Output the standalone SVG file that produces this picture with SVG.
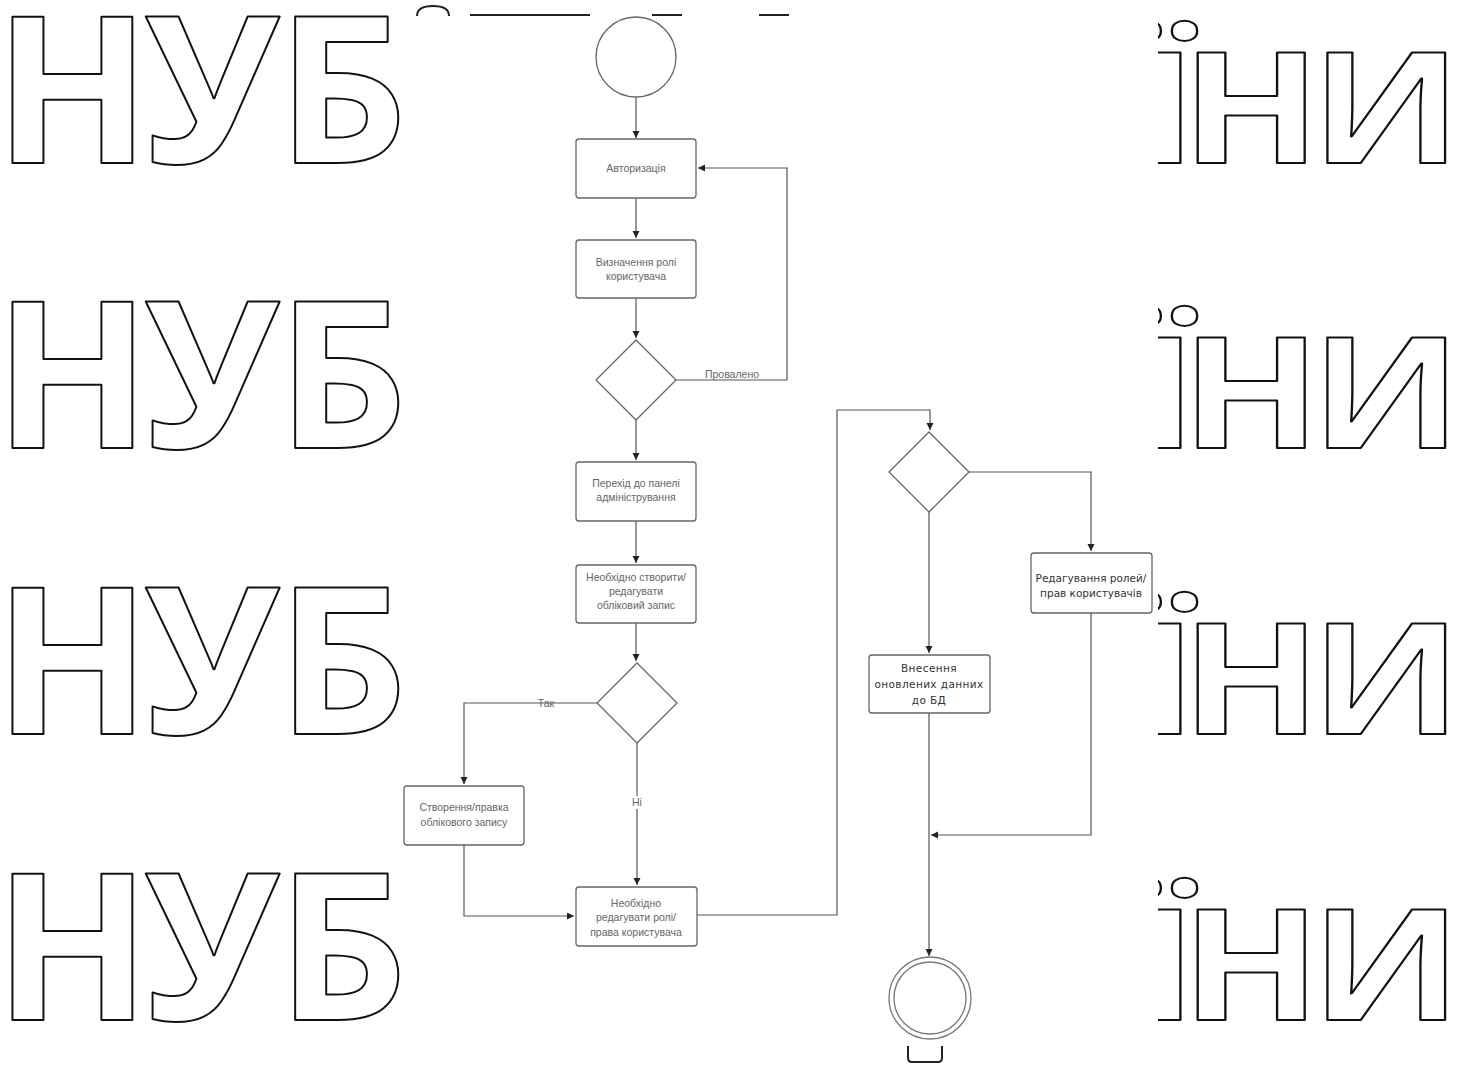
<svg xmlns="http://www.w3.org/2000/svg" width="1461" height="1066" viewBox="0 0 1461 1066">
<style>
.wm{font-family:"Open Sans","DejaVu Sans",sans-serif;font-weight:700;fill:#fff;stroke:#111;stroke-width:2;stroke-linejoin:round}
.frag{fill:none;stroke:#222;stroke-width:2}
.box{fill:#fff;stroke:#666;stroke-width:1.3}
.ln{fill:none;stroke:#555;stroke-width:1.2}
.t{font-family:"Liberation Sans",Arial,sans-serif;font-size:10.5px;fill:#666;text-anchor:middle}
.t2{font-family:"DejaVu Sans",sans-serif;font-size:10.5px;fill:#333;text-anchor:middle}
</style>
<defs>
<marker id="ar" markerUnits="userSpaceOnUse" markerWidth="8" markerHeight="8" refX="7" refY="3.5" orient="auto"><path d="M0,0 L7,3.5 L0,7 z" fill="#222"/></marker>
<g id="wmrow">
<text class="wm" font-size="205" y="163"><tspan x="-6">Н</tspan><tspan dx="-7">У</tspan><tspan dx="-3">Б</tspan></text>
<text class="wm" font-size="155" y="163" transform="scale(1.18,1)"><tspan x="963">Ї</tspan><tspan x="1001">Н</tspan><tspan x="1111">И</tspan></text>
</g>
</defs>
<rect width="1461" height="1066" fill="#fff"/>
<g id="watermark">
<use href="#wmrow"/>
<use href="#wmrow" y="285"/>
<use href="#wmrow" y="571"/>
<use href="#wmrow" y="857"/>
<path class="frag" d="M417,16 Q417,6 433,6 Q449,6 449,16"/>
<path class="frag" d="M470,15 H590 M652,15 H682 M759,15 H789"/>
<path class="frag" d="M908,1046 V1058 Q908,1062 912,1062 H938 Q942,1062 942,1058 V1046"/>
</g>
<rect x="402" y="17" width="756" height="1028" fill="#fff"/>
<g id="connectors">
<path class="ln" d="M636,97 V138" marker-end="url(#ar)"/>
<path class="ln" d="M636,198 V238" marker-end="url(#ar)"/>
<path class="ln" d="M636,298 V338" marker-end="url(#ar)"/>
<path class="ln" d="M676,380 H787 V168 H698" marker-end="url(#ar)"/>
<path class="ln" d="M636,420 V460" marker-end="url(#ar)"/>
<path class="ln" d="M636,521 V563" marker-end="url(#ar)"/>
<path class="ln" d="M636,623 V661" marker-end="url(#ar)"/>
<path class="ln" d="M597,703 H464 V784" marker-end="url(#ar)"/>
<path class="ln" d="M637,743 V885" marker-end="url(#ar)"/>
<path class="ln" d="M464,845 V916 H574" marker-end="url(#ar)"/>
<path class="ln" d="M697,915 H837 V410 H930 V430" marker-end="url(#ar)"/>
<path class="ln" d="M969,472 H1091 V551" marker-end="url(#ar)"/>
<path class="ln" d="M929,512 V653" marker-end="url(#ar)"/>
<path class="ln" d="M929,713 V956" marker-end="url(#ar)"/>
<path class="ln" d="M1091,613 V835 H931" marker-end="url(#ar)"/>
<text class="t" x="732" y="378">Провалено</text>
<text class="t" x="546" y="707">Так</text>
<rect x="630" y="796" width="14" height="13" fill="#fff"/>
<text class="t" x="637" y="806">Ні</text>
</g>
<g id="start"><circle cx="636" cy="57" r="40" fill="#fff" stroke="#666" stroke-width="1.3"/></g>
<g id="auth"><rect class="box" x="576" y="139" width="120" height="59" rx="3"/><text class="t" x="636" y="172">Авторизація</text></g>
<g id="role"><rect class="box" x="576" y="240" width="120" height="58" rx="3"/><text class="t" x="636" y="266">Визначення ролі</text><text class="t" x="636" y="280">користувача</text></g>
<g id="d1"><path class="box" d="M636,340 L676,380 L636,420 L596,380 z"/></g>
<g id="admin"><rect class="box" x="576" y="462" width="120" height="59" rx="3"/><text class="t" x="636" y="487">Перехід до панелі</text><text class="t" x="636" y="501">адміністрування</text></g>
<g id="need"><rect class="box" x="576" y="565" width="120" height="58" rx="3"/><text class="t" x="636" y="581">Необхідно створити/</text><text class="t" x="636" y="595">редагувати</text><text class="t" x="636" y="609">обліковий запис</text></g>
<g id="d2"><path class="box" d="M637,663 L677,703 L637,743 L597,703 z"/></g>
<g id="create"><rect class="box" x="404" y="786" width="120" height="59" rx="3"/><text class="t" x="464" y="811">Створення/правка</text><text class="t" x="464" y="826">облікового запису</text></g>
<g id="editroles"><rect class="box" x="576" y="887" width="121" height="59" rx="3"/><text class="t" x="636" y="907">Необхідно</text><text class="t" x="636" y="921">редагувати ролі/</text><text class="t" x="636" y="936">права користувача</text></g>
<g id="d3"><path class="box" d="M929,432 L969,472 L929,512 L889,472 z"/></g>
<g id="rolesedit"><rect class="box" x="1031" y="553" width="121" height="60" rx="3"/><text class="t2" x="1091" y="582">Редагування ролей/</text><text class="t2" x="1091" y="597">прав користувачів</text></g>
<g id="dbupdate"><rect class="box" x="869" y="655" width="121" height="58" rx="3"/><text class="t2" x="929" y="672" letter-spacing="0.4">Внесення</text><text class="t2" x="929" y="688" letter-spacing="0.4">оновлених данних</text><text class="t2" x="929" y="704" letter-spacing="0.4">до БД</text></g>
<g id="end"><circle cx="930" cy="998" r="41" fill="#fff" stroke="#777" stroke-width="1.3"/><circle cx="930" cy="998" r="36" fill="#fff" stroke="#777" stroke-width="1.3"/></g>
</svg>
